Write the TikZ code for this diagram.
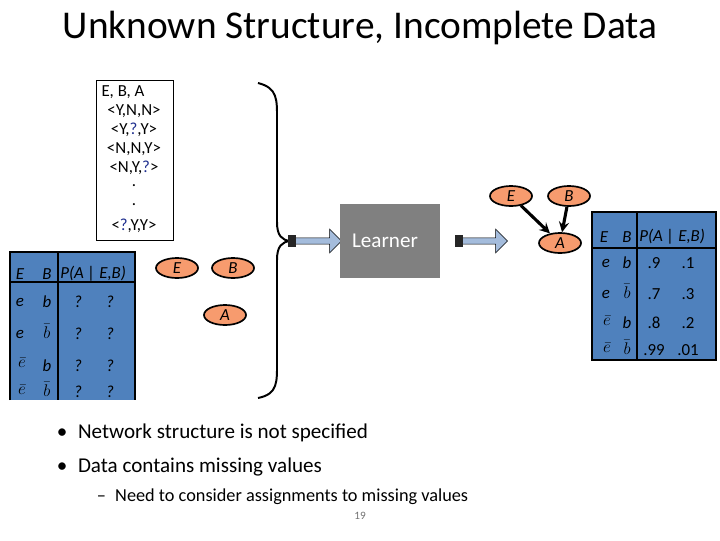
\documentclass[tikz,border=0pt]{standalone}
\usepackage{fontspec}
\setmainfont{Carlito}
\usetikzlibrary{shapes.geometric,shapes.arrows}
\definecolor{tblue}{HTML}{4F81BD}
\definecolor{torange}{HTML}{F79B6E}
\definecolor{qblue}{HTML}{1F2F8F}
\definecolor{arrblue}{HTML}{A4BCDC}
\begin{document}
\begin{tikzpicture}[x=0.025cm, y=-0.025cm]
			% Define styles
			\tikzstyle{var} = [ellipse, draw=black, line width=1.2pt, fill=torange, minimum width=1.05cm, minimum height=0.5cm, inner sep=0pt, font=\fontsize{12}{14}\selectfont\itshape]
			\tikzstyle{cell} = [inner sep=0pt, font=\fontsize{12}{14}\selectfont\itshape]
			\tikzstyle{row} = [inner sep=0pt, font=\fontsize{12}{14}\selectfont]
			\tikzstyle{table} = [draw=black, line width=1.4pt, fill=tblue]
			\tikzstyle{flow} = [single arrow, draw=black, fill=arrblue, minimum height=1.3cm, minimum width=0.6cm, single arrow head extend=0.12cm, inner sep=1pt]
			\tikzstyle{edge} = [line width=2.2pt,->,>=stealth]
			\useasboundingbox (0,0) rectangle (720,540);
			
			% Title
			\node (title) at (360,28) {\fontsize{28}{32}\selectfont Unknown Structure, Incomplete Data};
			
			% Data
			\node (data) [draw=black, thick, minimum width=1.93cm, minimum height=4cm, anchor=north west] at (96,80) {};
			\node (d0) [row] at (123,92) {E, B, A};
			\node (d1) [row] at (134,111) {<Y,N,N>};
			\node (d2) [row] at (134,130) {<Y,{\color{qblue}?},Y>};
			\node (d3) [row] at (134,149) {<N,N,Y>};
			\node (d4) [row] at (134,168) {<N,Y,{\color{qblue}?}>};
			\node (d5) [row] at (134,186) {.};
			\node (d6) [row] at (134,205) {.};
			\node (d7) [row] at (134,226) {<{\color{qblue}?},Y,Y>};
			
			% Initial network
			\node (lE) [var] at (177,268) {E};
			\node (lB) [var] at (233,268) {B};
			\node (lA) [var] at (225,315) {A};
			
			% Initial table
			\fill[tblue] (10,252) rectangle (135,400);
			\draw[line width=1.4pt] (10,400) -- (10,252) -- (135,252) -- (135,400);
			\draw[line width=1.4pt] (10,282) -- (135,282);
			\draw[line width=1.4pt] (58,252) -- (58,400);
			\node (lhE) [cell] at (20,274) {E};
			\node (lhB) [cell] at (47,274) {B};
			\node (lhP) [cell, anchor=west] at (60,274) {P(A | E,B)};
			\node (l1e) [cell] at (20,302) {e}; \node (l1b) [cell] at (47,302) {b};
			\node (l2e) [cell] at (20,334) {e}; \node (l2b) [cell] at (47,331) {$\bar{b}$};
			\node (l3e) [cell] at (22,363) {$\bar{e}$}; \node (l3b) [cell] at (47,366) {b};
			\node (l4e) [cell] at (22,390) {$\bar{e}$}; \node (l4b) [cell] at (47,389) {$\bar{b}$};
			\foreach \y/\n in {302/1,334/2,366/3,392/4} {
				\node (lp\n) [cell] at (78,\y) {?};
				\node (lq\n) [cell] at (110,\y) {?};
			}
			
			% Brace
			\draw[line width=1.4pt] (258,83) .. controls (278,88) and (277,100) .. (277,120) -- (277,222) .. controls (277,236) and (282,240) .. (290,241) .. controls (282,242) and (277,246) .. (277,260) -- (277,362) .. controls (277,382) and (278,394) .. (258,398);
			
			% Learner
			\node (in) [flow] at (314,241) {};
			\fill[black!85] (288,235) rectangle (296,247);
			\node (learner) [fill=black!50, minimum width=2.5cm, minimum height=1.83cm] at (390,241) {};
			\node (ltext) [text=white] at (385,241) {\fontsize{15}{18}\selectfont Learner};
			\node (out) [flow] at (480,241) {};
			\fill[black!85] (455,235) rectangle (463,247);
			
			% Learned network
			\node (rE) [var] at (511,196) {E};
			\node (rB) [var] at (569,196) {B};
			\node (rA) [var] at (560,243) {A};
			\draw [edge] (rE) -- (rA);
			\draw [edge] (rB) -- (rA);
			
			% Learned table
			\node (rtab) [table, minimum width=3.1cm, minimum height=3.7cm, anchor=north west] at (591,211) {};
			\draw[line width=1.4pt] (591,248) -- (715,248);
			\draw[line width=1.4pt] (637,211) -- (637,359);
			\node (rhE) [cell] at (604,237) {E};
			\node (rhB) [cell] at (627,237) {B};
			\node (rhP) [cell, anchor=west] at (639,237) {P(A | E,B)};
			\node (r1e) [cell] at (606,263) {e}; \node (r1b) [cell] at (627,263) {b};
			\node (r2e) [cell] at (606,294) {e}; \node (r2b) [cell] at (627,291) {$\bar{b}$};
			\node (r3e) [cell] at (607,321) {$\bar{e}$}; \node (r3b) [cell] at (627,323) {b};
			\node (r4e) [cell] at (607,348) {$\bar{e}$}; \node (r4b) [cell] at (627,347) {$\bar{b}$};
			\foreach \y/\p/\q [count=\n] in {263/.9/.1,294/.7/.3,323/.8/.2,350/.99/.01} {
				\node (rp\n) [row] at (654,\y) {\p};
				\node (rq\n) [row] at (688,\y) {\q};
			}
			
			% Bullets
			\node (b1) [anchor=west] at (52,433) {\fontsize{15}{18}\selectfont \textbullet\enspace Network structure is not specified};
			\node (b2) [anchor=west] at (52,467) {\fontsize{15}{18}\selectfont \textbullet\enspace Data contains missing values};
			\node (b3) [anchor=west] at (92,497) {\fontsize{13}{16}\selectfont --\enspace Need to consider assignments to missing values};
			\node (page) [text=black!55] at (360,516) {\fontsize{8}{10}\selectfont 19};
		\end{tikzpicture}
\end{document}
